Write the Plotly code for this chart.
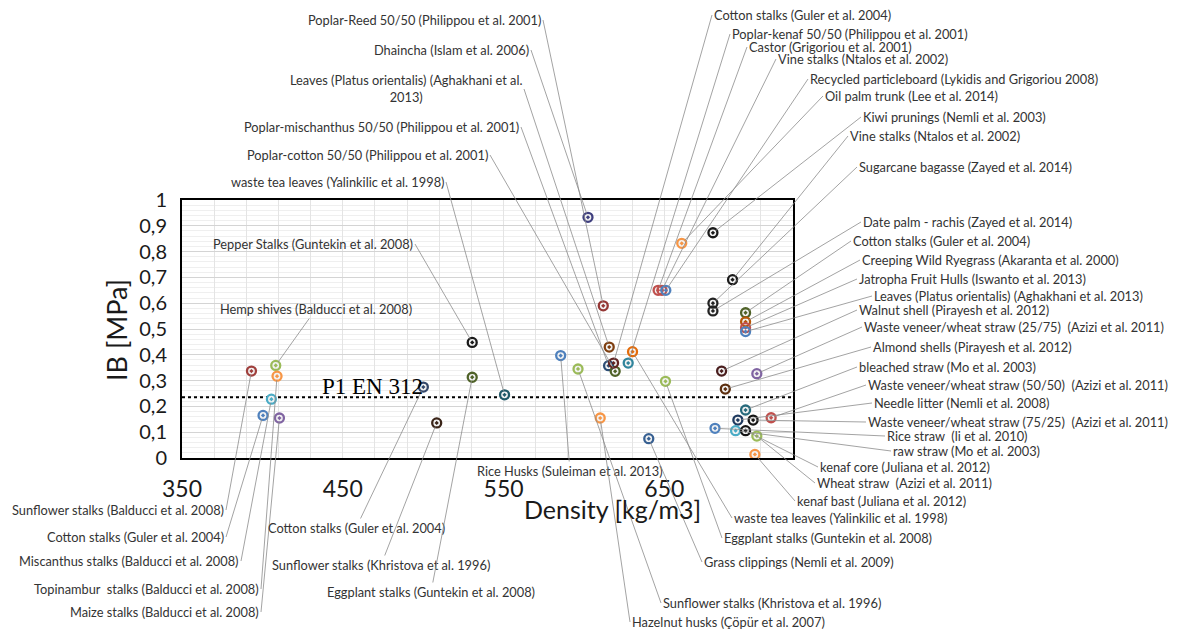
import plotly.graph_objects as go

# ---- data: density [kg/m3], internal bond [MPa]
materials = [
    "Sunflower stalks (Balducci et al. 2008)",
    "Hemp shives (Balducci et al. 2008)",
    "Topinambur  stalks (Balducci et al. 2008)",
    "Miscanthus stalks (Balducci et al. 2008)",
    "Cotton stalks (Guler et al. 2004)",
    "Maize stalks (Balducci et al. 2008)",
    "Cotton stalks (Guler et al. 2004)",
    "Sunflower stalks (Khristova et al. 1996)",
    "Eggplant stalks (Guntekin et al. 2008)",
    "Pepper Stalks (Guntekin et al. 2008)",
    "waste tea leaves (Yalinkilic et al. 1998)",
    "Rice Husks (Suleiman et al. 2013)",
    "Sunflower stalks (Khristova et al. 1996)",
    "Hazelnut husks (Çöpür et al. 2007)",
    "Dhaincha (Islam et al. 2006)",
    "Poplar-Reed 50/50 (Philippou et al. 2001)",
    "Leaves (Platus orientalis) (Aghakhani et al.<br>2013)",
    "Poplar-mischanthus 50/50 (Philippou et al. 2001)",
    "Poplar-cotton 50/50 (Philippou et al. 2001)",
    "Cotton stalks (Guler et al. 2004)",
    "Poplar-kenaf 50/50 (Philippou et al. 2001)",
    "waste tea leaves (Yalinkilic et al. 1998)",
    "Eggplant stalks (Guntekin et al. 2008)",
    "Grass clippings (Nemli et al. 2009)",
    "Castor (Grigoriou et al. 2001)",
    "Vine stalks (Ntalos et al. 2002)",
    "Recycled particleboard (Lykidis and Grigoriou 2008)",
    "Oil palm trunk (Lee et al. 2014)",
    "Kiwi prunings (Nemli et al. 2003)",
    "Vine stalks (Ntalos et al. 2002)",
    "Sugarcane bagasse (Zayed et al. 2014)",
    "Date palm - rachis (Zayed et al. 2014)",
    "Cotton stalks (Guler et al. 2004)",
    "Creeping Wild Ryegrass (Akaranta et al. 2000)",
    "Jatropha Fruit Hulls (Iswanto et al. 2013)",
    "Leaves (Platus orientalis) (Aghakhani et al. 2013)",
    "Walnut shell (Pirayesh et al. 2012)",
    "Waste veneer/wheat straw (25/75)  (Azizi et al. 2011)",
    "Almond shells (Pirayesh et al. 2012)",
    "bleached straw (Mo et al. 2003)",
    "Waste veneer/wheat straw (50/50)  (Azizi et al. 2011)",
    "Needle litter (Nemli et al. 2008)",
    "Waste veneer/wheat straw (75/25)  (Azizi et al. 2011)",
    "Rice straw  (li et al. 2010)",
    "raw straw (Mo et al. 2003)",
    "kenaf core (Juliana et al. 2012)",
    "Wheat straw  (Azizi et al. 2011)",
    "kenaf bast (Juliana et al. 2012)",
]

density = [393.2, 408.3, 409.1, 405.6, 400.4, 410.6, 500.1, 508.4, 530.5, 530.5,
           550.6, 585.5, 596.3, 610.1, 602.5, 612.0, 615.7, 615.3, 619.4, 618.4,
           627.5, 630.2, 650.7, 640.3, 646.1, 648.5, 650.9, 660.8, 680.2, 692.4,
           680.2, 680.2, 700.5, 700.5, 700.5, 700.5, 685.6, 707.5, 687.9, 700.5,
           716.4, 695.7, 705.2, 681.5, 694.3, 700.5, 707.5, 706.3]

ib = [0.337, 0.359, 0.317, 0.228, 0.165, 0.155, 0.275, 0.136, 0.313, 0.448,
      0.245, 0.397, 0.345, 0.155, 0.933, 0.590, 0.430, 0.358, 0.336, 0.368,
      0.368, 0.412, 0.297, 0.075, 0.650, 0.650, 0.650, 0.832, 0.873, 0.691,
      0.600, 0.570, 0.563, 0.528, 0.505, 0.490, 0.337, 0.327, 0.267, 0.186,
      0.156, 0.147, 0.147, 0.115, 0.106, 0.106, 0.085, 0.014]

en312_p1 = 0.235

x_ticks = [350, 450, 550, 650]
y_ticks = [0, 0.1, 0.2, 0.3, 0.4, 0.5, 0.6, 0.7, 0.8, 0.9, 1]
y_tick_text = ["0", "0,1", "0,2", "0,3", "0,4", "0,5", "0,6", "0,7", "0,8", "0,9", "1"]

# ---- styling
ring_colors = ["#A0403D", "#9BBB59", "#F79646", "#4BACC6", "#4F81BD", "#8064A2",
               "#34486B", "#3A2418", "#4F6228", "#1A1A1A", "#215968", "#4F81BD",
               "#9BBB59", "#F79646", "#3F3F7F", "#953735", "#7F3F10", "#2C4D75",
               "#4F6228", "#632523", "#31859C", "#E46C0A", "#9BBB59", "#376092",
               "#C0504D", "#C0504D", "#4F81BD", "#F79646", "#1A1A1A", "#1A1A1A",
               "#222222", "#222222", "#4F6228", "#B65708", "#C0504D", "#4F81BD",
               "#4A1E1E", "#8064A2", "#5C2E0E", "#276A7C", "#C0504D", "#1F3A5F",
               "#151515", "#4F81BD", "#4BACC6", "#151515", "#9BBB59", "#F79646"]

# where each leader line meets its label (page pixels) and which side of the label
label_px = [226, 316, 261, 241, 226, 261, 356, 381, 431, 415,
            446, 570, 661, 630, 531, 543, 524, 521, 490, 712,
            730, 732, 722, 702, 747, 776, 808, 823, 861, 848,
            857, 861, 851, 860, 857, 872, 857, 862, 871, 857,
            866, 872, 866, 885, 891, 818, 815, 795]
label_py = [510, 309, 589, 561, 537, 612, 528, 565, 592, 244,
            182, 471, 603, 622, 50, 20, 89, 127, 155, 15,
            34, 518, 538, 562, 47, 59, 79, 96, 117, 136,
            167, 222, 241, 260, 279, 296, 310, 327, 347, 367,
            385, 403, 422, 436, 451, 467, 483, 501]
label_side = ["right", "center", "right", "right", "right", "right", "center", "center", "center", "right",
              "right", "center", "left", "left", "right", "right", "right", "right", "right", "left",
              "left", "left", "left", "left", "left", "left", "left", "left", "left", "left",
              "left", "left", "left", "left", "left", "left", "left", "left", "left", "left",
              "left", "left", "left", "left", "left", "left", "left", "left"]

W, H = 1180, 633
PAGE_OFF = 8                              # body margin of the html page
PL, PR, PT, PB = 182, 793, 200, 458       # plot frame in page pixels
X0, X1 = 350, 730
LABEL_FONT = "Lato, 'Open Sans', sans-serif"


def to_x(px):
    return X0 + (px - PL) / (PR - PL) * (X1 - X0)


def to_y(py):
    return 1 - (py - PT) / (PB - PT)


def to_paper(px, py):
    return (px - PL) / (PR - PL), 1 - (py - PT) / (PB - PT)


fig = go.Figure()

# reference line P1 EN 312
fig.add_trace(go.Scatter(x=[X0, X1], y=[en312_p1, en312_p1], mode="lines",
                         line=dict(color="black", width=2, dash="dot"),
                         hoverinfo="skip", showlegend=False))

# markers: light disc under a coloured ring with centre dot
fig.add_trace(go.Scatter(x=density, y=ib, mode="markers",
                         marker=dict(size=10, color="#f2f2f2", line=dict(width=0)),
                         hoverinfo="skip", showlegend=False))
fig.add_trace(go.Scatter(x=density, y=ib, mode="markers", text=materials,
                         marker=dict(symbol="circle-open-dot", size=9, color=ring_colors,
                                     line=dict(width=2.3)),
                         showlegend=False))

annotations = []
for name, d, v, px, py, side in zip(materials, density, ib, label_px, label_py, label_side):
    annotations.append(dict(
        x=d, y=v, xref="x", yref="y",
        ax=to_x(px), ay=to_y(py), axref="x", ayref="y",
        text=name, showarrow=True, arrowhead=0, arrowwidth=0.8,
        arrowcolor="#8c8c8c", standoff=4,
        xanchor=side, yanchor="middle", align="center",
        font=dict(family=LABEL_FONT, size=12.8, color="#333333"),
    ))

xp, yp = to_paper(372, 386)
annotations.append(dict(x=xp, y=yp, xref="paper", yref="paper", text="P1 EN 312",
                        xanchor="center", yanchor="middle", showarrow=False,
                        font=dict(family="Liberation Serif", size=23, color="black")))
xp, yp = to_paper(612, 509)
annotations.append(dict(x=xp, y=yp, xref="paper", yref="paper", text="Density [kg/m3]",
                        xanchor="center", yanchor="middle", showarrow=False,
                        font=dict(family=LABEL_FONT, size=25, color="#1a1a1a")))
xp, yp = to_paper(116, 330)
annotations.append(dict(x=xp, y=yp, xref="paper", yref="paper", text="IB [MPa]",
                        xanchor="center", yanchor="middle", textangle=-90, showarrow=False,
                        font=dict(family=LABEL_FONT, size=27, color="#1a1a1a")))

fig.update_layout(
    width=W, height=H,
    margin=dict(l=PL - PAGE_OFF, r=W - (PR - PAGE_OFF), t=PT - PAGE_OFF, b=H - (PB - PAGE_OFF)),
    paper_bgcolor="white", plot_bgcolor="white",
    annotations=annotations,
)

fig.update_xaxes(range=[X0, X1], tickmode="array",
                 tickvals=list(range(X0, X1 + 1, 20)),
                 ticktext=[str(v) if v in x_ticks else "" for v in range(X0, X1 + 1, 20)],
                 tickfont=dict(family=LABEL_FONT, size=23, color="#1a1a1a"),
                 ticklabelstandoff=9, ticks="",
                 showgrid=True, gridcolor="#e4e4e4", gridwidth=1,
                 showline=True, linecolor="black", linewidth=2, mirror=True, zeroline=False)

fig.update_yaxes(range=[0, 1], tickmode="array", tickvals=y_ticks, ticktext=y_tick_text,
                 tickfont=dict(family=LABEL_FONT, size=20, color="#1a1a1a"),
                 ticks="", ticklabelstandoff=9,
                 showgrid=True, gridcolor="#d4d4d4", gridwidth=1,
                 minor=dict(dtick=0.02, showgrid=True, gridcolor="#efefef", gridwidth=1),
                 showline=True, linecolor="black", linewidth=2, mirror=True, zeroline=False)

fig.write_html("out.html")
